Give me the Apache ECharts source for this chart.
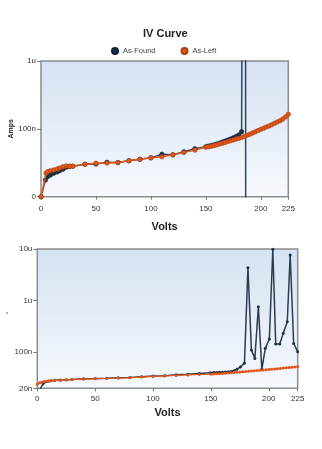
<!DOCTYPE html>
<html><head><meta charset="utf-8">
<script src="https://cdn.jsdelivr.net/npm/echarts@6/dist/echarts.min.js"></script>
<style>html,body{margin:0;padding:0;background:#fff}#c{width:322px;height:449px}</style>
</head><body><div id="c"></div>
<script>
// ---------- data (amps in nA, volts in V) ----------
const seriesNames = ['As-Found', 'As-Left'];
const voltTicks = [0, 50, 100, 150, 200, 225];
const topAmpTickValues = [0, 100, 1000];
const topAmpTickLabels = ['0', '100n', '1u'];
const botAmpTickValues = [20, 100, 1000, 10000];
const botAmpTickLabels = ['20n', '100n', '1u', '10u'];

// top chart (off-scale readings around 184 V run past the plot edges)
const foundTopV = [0,4,6,8.5,11.5,14.5,17,20,23,26,29,40,50,60,70,80,90,100,110,120,130,140,150,152.5,155,157.5,160,162.5,165,167.5,170,172.5,175,177.5,180,182.5,183.5,186,186.3];
const foundTopA = [0,9,11.4,12.7,14.2,15.3,16.5,17.9,20,20.8,21,23.2,23.5,25.5,25.2,27.6,29.4,31.5,37,36,41,46.6,50.5,51.8,53.2,54.8,56.5,58.5,60.8,63.2,65.8,68.5,71.5,75,80,90,1000000,1000000,-1000];
const leftTopV = [0,4.6,6,8.5,11.6,14.6,17,20,23,26,29,40,50,60,70,80,90,100,110,120,130,140,150,152.5,155,157.5,160,162.5,165,167.5,170,172.5,175,177.5,180,182.5,185,187.5,190,192.5,195,197.5,200,202.5,205,207.5,210,212.5,215,217.5,220,222.5,225];
const leftTopA = [0,14.2,15.6,16.5,17.2,18.1,19.2,20.5,21.3,21,21,23.2,24.4,24.8,25.3,27.6,29.4,31.5,33,36,40,44,50,50.6,51.6,52.9,54.6,56.4,58.2,60,62.2,64.1,66.1,68.2,70.6,72.8,75.6,78.8,82.1,85.8,89.7,93.8,98.3,102.4,106.9,111.2,116.1,122,128,134,142,153,168];

// bottom chart
const foundBotV = [2.5,5,8,10,12,15,20,25,30,40,50,60,70,80,90,100,110,120,130,140,150,152.5,155,157.5,160,162.5,165,167.5,170,172.5,175.5,179,182,185,188,191,194,197,200.5,203.5,206,209.5,212.5,216,218.5,221.5,225];
const foundBotA = [19.5,24.5,27,27.6,28,28.5,29,29.3,29.7,30.5,30.8,31.3,32,32.5,33.5,34.5,35.2,36.5,37.5,38.8,40,40.3,40.5,40.8,41,41.3,41.7,42.5,44,47,52,61,4350,110,76,762,46.7,119,180,9900,144,144,232,390,7650,148,102];
const leftBotV = [0,2,4,6,8,10,12,15,20,25,30,40,50,60,70,80,90,100,110,120,130,140,150,152.5,155,157.5,160,162.5,165,167.5,170,172.5,175,177.5,180,182.5,185,187.5,190,192.5,195,197.5,200,202.5,205,207.5,210,212.5,215,217.5,220,222.5,225];
const leftBotA = [24,25.5,26.5,27,27.3,27.8,28,28.5,28.8,29,29.5,30,30.5,31,31.5,32,33,34,34.7,35.5,36.3,37,37.5,37.8,38.1,38.4,38.8,39.1,39.5,39.9,40.3,40.7,41.2,41.7,42.2,42.7,43.3,43.8,44.3,44.8,45.3,45.8,46.4,46.9,47.4,48,48.6,49.2,49.8,50.4,51,51.8,52.8];

// ---------- build ----------
const C = 12.5; // symlog linear threshold (nA)
function sl(v){ return Math.sign(v) * Math.log10(1 + Math.abs(v) / C); }
function pairs(xs, ys, f){ return xs.map((x,i)=>[x, f ? f(ys[i]) : ys[i]]); }
function nearestLabel(vals, labels, v, f){
  let bi = 0, bd = Infinity;
  vals.forEach((t,i)=>{ const d = Math.abs((f?f(t):Math.log10(t)) - v); if (d < bd){ bd = d; bi = i; } });
  return labels[bi];
}
const FONT = 'Liberation Sans, Arial, sans-serif';
const NAVY = '#1c3048', NAVY_LINE = '#2f4866', ORANGE = '#e0561c';
const bg = () => new echarts.graphic.LinearGradient(0,0,0,1,[{offset:0,color:'#d4e2f2'},{offset:1,color:'#f6f9fc'}]);

const chart = echarts.init(document.getElementById('c'), null, {renderer:'canvas'});
const xCommon = (gi, labelMargin, nameGap) => ({
  type:'value', gridIndex:gi, min:0, max:225,
  name:'Volts', nameLocation:'middle', nameGap:nameGap, nameMoveOverlap:false,
  nameTextStyle:{fontFamily:FONT, fontSize:11, fontWeight:'bold', color:'#222'},
  axisLine:{show:false},
  axisTick:{show:true, length:3, lineStyle:{color:'#777'}, customValues:voltTicks},
  axisLabel:{fontFamily:FONT, fontSize:8, color:'#333', margin:labelMargin, customValues:voltTicks, showMinLabel:true, showMaxLabel:true},
  splitLine:{show:false}
});

chart.setOption({
  animation:false,
  backgroundColor:'#fff',
  title:{text:'IV Curve', left:143, top:28, padding:0,
    textStyle:{fontFamily:FONT, fontSize:11, fontWeight:'bold', color:'#222'}},
  legend:{data:seriesNames, left:111, top:47, padding:0, itemGap:25, icon:'circle', itemWidth:6, itemHeight:6,
    textStyle:{fontFamily:FONT, fontSize:7.5, color:'#444'}},
  grid:[
    {left:41, top:61, width:247.3, height:135.7, show:true, outerBoundsMode:'none', containLabel:false,
      backgroundColor:bg(), borderColor:'#8c8c8c', borderWidth:1.5},
    {left:37.3, top:249, width:260.4, height:139.3, show:true, outerBoundsMode:'none', containLabel:false,
      backgroundColor:bg(), borderColor:'#8c8c8c', borderWidth:1.5}
  ],
  xAxis:[ xCommon(0, 8, 25), xCommon(1, 6, 19) ],
  yAxis:[
    {type:'value', gridIndex:0, min:0, max:sl(1000),
      name:'Amps', nameLocation:'middle', nameGap:26, nameRotate:90, nameMoveOverlap:false,
      nameTextStyle:{fontFamily:FONT, fontSize:7, fontWeight:'bold', color:'#222'},
      axisLine:{show:false},
      axisTick:{show:true, length:4, lineStyle:{color:'#777'}, customValues:topAmpTickValues.map(sl)},
      axisLabel:{fontFamily:FONT, fontSize:8, color:'#333', margin:5, customValues:topAmpTickValues.map(sl),
        formatter:(v)=>nearestLabel(topAmpTickValues, topAmpTickLabels, v, sl)},
      splitLine:{show:false}},
    {type:'log', logBase:10, gridIndex:1, min:20, max:10000,
      axisLine:{show:false},
      axisTick:{show:true, length:4, lineStyle:{color:'#777'}, customValues:botAmpTickValues},
      axisLabel:{fontFamily:FONT, fontSize:8, color:'#333', margin:5, customValues:botAmpTickValues,
        formatter:(v)=>nearestLabel(botAmpTickValues, botAmpTickLabels, Math.log10(v))},
      splitLine:{show:false}}
  ],
  graphic:[{type:'circle', shape:{cx:7, cy:313, r:0.8}, style:{fill:'#555'}}],
  series:[
    {name:seriesNames[0], type:'line', xAxisIndex:0, yAxisIndex:0, data:pairs(foundTopV, foundTopA, sl),
      symbol:'circle', symbolSize:4.5, clip:true,
      lineStyle:{color:NAVY_LINE, width:1.5}, itemStyle:{color:NAVY, borderColor:'#0f1e30', borderWidth:0.5}, z:2},
    {name:seriesNames[1], type:'line', xAxisIndex:0, yAxisIndex:0, data:pairs(leftTopV, leftTopA, sl),
      symbol:'circle', symbolSize:4.5, clip:true,
      lineStyle:{color:ORANGE, width:1.5}, itemStyle:{color:ORANGE, borderColor:'#a8400f', borderWidth:0.6}, z:3},
    {name:seriesNames[0], type:'line', xAxisIndex:1, yAxisIndex:1, data:pairs(foundBotV, foundBotA),
      symbol:'circle', symbolSize:3, clip:true,
      lineStyle:{color:'#2c3c4e', width:1.5}, itemStyle:{color:NAVY}, z:2},
    {name:seriesNames[1], type:'line', xAxisIndex:1, yAxisIndex:1, data:pairs(leftBotV, leftBotA),
      symbol:'circle', symbolSize:3, clip:true,
      lineStyle:{color:ORANGE, width:1.2}, itemStyle:{color:ORANGE}, z:3}
  ]
});
</script>
</body></html>
